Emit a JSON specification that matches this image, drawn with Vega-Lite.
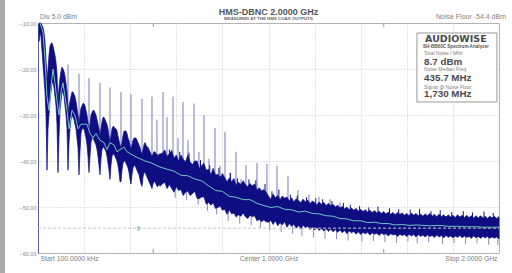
{
"$schema":"https://vega.github.io/schema/vega-lite/v6.json",
"autosize":{"type":"none"},
"width":461,"height":230,
"padding":{"left":38,"top":23,"right":13,"bottom":20},
"background":"white",
"config":{"font":"Liberation Sans","view":{"stroke":"#a8a8a8","strokeWidth":1}},
"datasets":{
"band":[
{"f":4.3,"lo":-14,"hi":-10},{"f":8.7,"lo":-12,"hi":-10},{"f":13.0,"lo":-13,"hi":-10},{"f":17.4,"lo":-16,"hi":-10.5},{"f":21.7,"lo":-19,"hi":-11},{"f":26.0,"lo":-22,"hi":-12},{"f":30.4,"lo":-25,"hi":-14},{"f":34.7,"lo":-30,"hi":-18},{"f":39.0,"lo":-42,"hi":-22},{"f":43.4,"lo":-33,"hi":-20},
{"f":47.7,"lo":-30,"hi":-17},{"f":52.1,"lo":-27,"hi":-15},{"f":56.4,"lo":-25,"hi":-14.5},{"f":60.7,"lo":-23,"hi":-14.3},{"f":65.1,"lo":-23,"hi":-15},{"f":69.4,"lo":-24,"hi":-16},{"f":73.7,"lo":-26,"hi":-17},{"f":78.1,"lo":-28,"hi":-18.5},{"f":82.4,"lo":-32,"hi":-21},{"f":86.8,"lo":-42.5,"hi":-27},
{"f":91.1,"lo":-35,"hi":-24},{"f":95.4,"lo":-29,"hi":-22},{"f":99.8,"lo":-27,"hi":-20.5},{"f":104.1,"lo":-25,"hi":-19.6},{"f":108.4,"lo":-25,"hi":-20},{"f":112.8,"lo":-26,"hi":-20.5},{"f":117.1,"lo":-28,"hi":-21.5},{"f":121.4,"lo":-30,"hi":-23},{"f":125.8,"lo":-33,"hi":-25},{"f":130.1,"lo":-42,"hi":-30},
{"f":134.5,"lo":-36,"hi":-28},{"f":138.8,"lo":-33,"hi":-27},{"f":143.1,"lo":-31,"hi":-26},{"f":147.5,"lo":-30,"hi":-25},{"f":151.8,"lo":-30.5,"hi":-25},{"f":156.1,"lo":-31,"hi":-25.5},{"f":160.5,"lo":-32,"hi":-26},{"f":164.8,"lo":-33,"hi":-27},{"f":169.1,"lo":-35,"hi":-28.5},{"f":173.5,"lo":-37,"hi":-30},
{"f":177.9,"lo":-43,"hi":-32},{"f":182.2,"lo":-38,"hi":-30},{"f":186.5,"lo":-34,"hi":-28.5},{"f":190.9,"lo":-33,"hi":-28},{"f":195.2,"lo":-33,"hi":-27.5},{"f":199.5,"lo":-33,"hi":-27.5},{"f":203.9,"lo":-34,"hi":-28},{"f":208.2,"lo":-35,"hi":-29},{"f":212.6,"lo":-36.5,"hi":-30},{"f":216.9,"lo":-39,"hi":-31.5},
{"f":221.2,"lo":-42.5,"hi":-33.5},{"f":225.6,"lo":-39,"hi":-32},{"f":229.9,"lo":-36,"hi":-30},{"f":234.3,"lo":-35,"hi":-29.5},{"f":238.6,"lo":-35,"hi":-29},{"f":242.9,"lo":-35.5,"hi":-29},{"f":247.3,"lo":-36,"hi":-29.5},{"f":251.6,"lo":-36.5,"hi":-30},{"f":255.9,"lo":-37.5,"hi":-31},{"f":260.3,"lo":-39,"hi":-32},
{"f":264.6,"lo":-41,"hi":-33},{"f":269.0,"lo":-43,"hi":-34.5},{"f":273.3,"lo":-39.5,"hi":-33},{"f":277.6,"lo":-37.5,"hi":-31.5},{"f":282.0,"lo":-37,"hi":-30.5},{"f":286.3,"lo":-37,"hi":-30.5},{"f":290.6,"lo":-37.5,"hi":-31},{"f":295.0,"lo":-38,"hi":-31.5},{"f":299.3,"lo":-39,"hi":-32},{"f":303.7,"lo":-40.5,"hi":-33},
{"f":308.0,"lo":-42,"hi":-34.5},{"f":312.3,"lo":-44,"hi":-36},{"f":316.7,"lo":-41,"hi":-34.5},{"f":321.0,"lo":-39,"hi":-33},{"f":325.4,"lo":-38.5,"hi":-32.5},{"f":329.7,"lo":-38.5,"hi":-32.5},{"f":334.0,"lo":-39,"hi":-33},{"f":338.4,"lo":-39.5,"hi":-33},{"f":342.7,"lo":-40,"hi":-33.5},{"f":347.0,"lo":-41,"hi":-34.5},
{"f":351.4,"lo":-42.5,"hi":-35.5},{"f":355.7,"lo":-44.5,"hi":-36.5},{"f":360.1,"lo":-44.5,"hi":-37},{"f":364.4,"lo":-42,"hi":-36},{"f":368.7,"lo":-40.5,"hi":-34.5},{"f":373.1,"lo":-40,"hi":-33.5},{"f":377.4,"lo":-40,"hi":-33.5},{"f":381.8,"lo":-40.5,"hi":-33.5},{"f":386.1,"lo":-41,"hi":-34},{"f":390.4,"lo":-41.5,"hi":-35},
{"f":394.8,"lo":-42.5,"hi":-35.5},{"f":399.1,"lo":-44,"hi":-36.5},{"f":403.4,"lo":-45,"hi":-37.5},{"f":407.8,"lo":-43,"hi":-36.5},{"f":412.1,"lo":-41.5,"hi":-35.5},{"f":416.5,"lo":-41,"hi":-35},{"f":420.8,"lo":-41,"hi":-35},{"f":425.1,"lo":-41.5,"hi":-35},{"f":429.5,"lo":-42,"hi":-35.5},{"f":433.8,"lo":-42.5,"hi":-36},
{"f":438.1,"lo":-43,"hi":-36.5},{"f":442.5,"lo":-44,"hi":-37},{"f":446.8,"lo":-45,"hi":-38},{"f":451.2,"lo":-45.5,"hi":-38.5},{"f":455.5,"lo":-43.5,"hi":-37.5},{"f":459.8,"lo":-42.5,"hi":-36.5},{"f":464.2,"lo":-42.5,"hi":-36},{"f":468.5,"lo":-43,"hi":-36.5},{"f":472.9,"lo":-43.5,"hi":-37},{"f":477.2,"lo":-44,"hi":-37},
{"f":481.5,"lo":-44.5,"hi":-37.5},{"f":485.9,"lo":-45,"hi":-38},{"f":490.2,"lo":-45.5,"hi":-38.5},{"f":494.5,"lo":-46,"hi":-39},{"f":498.9,"lo":-45,"hi":-38.5},{"f":503.2,"lo":-44.5,"hi":-38},{"f":507.6,"lo":-44.5,"hi":-38},{"f":511.9,"lo":-45,"hi":-38.5},{"f":516.2,"lo":-45.5,"hi":-38.5},{"f":520.6,"lo":-45.5,"hi":-39},
{"f":524.9,"lo":-45,"hi":-38.5},{"f":529.2,"lo":-45.5,"hi":-38.5},
{"f":540,"lo":-45.0,"hi":-38.3},{"f":550,"lo":-44.6,"hi":-37.6},{"f":560,"lo":-46.0,"hi":-39.0},{"f":570,"lo":-45.1,"hi":-38.4},{"f":580,"lo":-46.0,"hi":-37.7},{"f":590,"lo":-46.8,"hi":-39.4},{"f":600,"lo":-45.6,"hi":-38.7},{"f":610,"lo":-46.4,"hi":-40.1},{"f":620,"lo":-46.2,"hi":-38.7},{"f":630,"lo":-47.5,"hi":-39.6},
{"f":640,"lo":-46.8,"hi":-40.2},{"f":650,"lo":-46.5,"hi":-38.7},{"f":660,"lo":-47.5,"hi":-40.2},{"f":670,"lo":-47.1,"hi":-40.8},{"f":680,"lo":-46.6,"hi":-40.0},{"f":690,"lo":-48.1,"hi":-40.0},{"f":700,"lo":-48.2,"hi":-41.6},{"f":710,"lo":-47.8,"hi":-41.0},{"f":720,"lo":-47.8,"hi":-40.5},{"f":730,"lo":-49.4,"hi":-42.0},
{"f":740,"lo":-49.0,"hi":-41.8},{"f":750,"lo":-49.6,"hi":-43.0},{"f":760,"lo":-49.1,"hi":-41.6},{"f":770,"lo":-50.3,"hi":-43.1},{"f":780,"lo":-50.1,"hi":-42.9},{"f":790,"lo":-49.8,"hi":-43.6},{"f":800,"lo":-50.7,"hi":-42.7},{"f":810,"lo":-50.5,"hi":-43.6},{"f":820,"lo":-51.6,"hi":-44.5},{"f":830,"lo":-50.6,"hi":-43.7},
{"f":840,"lo":-51.5,"hi":-44.5},{"f":850,"lo":-51.3,"hi":-43.8},{"f":860,"lo":-52.2,"hi":-45.3},{"f":870,"lo":-51.7,"hi":-44.6},{"f":880,"lo":-52.0,"hi":-45.1},{"f":890,"lo":-51.3,"hi":-44.3},{"f":900,"lo":-52.1,"hi":-45.1},{"f":910,"lo":-52.5,"hi":-45.6},{"f":920,"lo":-51.8,"hi":-44.9},{"f":930,"lo":-52.1,"hi":-45.4},
{"f":940,"lo":-51.9,"hi":-45.0},{"f":950,"lo":-53.0,"hi":-46.4},{"f":960,"lo":-52.7,"hi":-45.8},{"f":970,"lo":-53.2,"hi":-46.5},{"f":980,"lo":-52.8,"hi":-46.2},{"f":990,"lo":-53.2,"hi":-46.8},
{"f":1000,"lo":-53.3,"hi":-47.6},{"f":1010,"lo":-52.9,"hi":-48.3},{"f":1020,"lo":-53.8,"hi":-47.2},{"f":1030,"lo":-53.0,"hi":-48.0},{"f":1040,"lo":-54.1,"hi":-47.5},{"f":1050,"lo":-53.4,"hi":-48.4},{"f":1060,"lo":-53.9,"hi":-47.6},{"f":1070,"lo":-53.2,"hi":-48.1},{"f":1080,"lo":-54.4,"hi":-47.8},{"f":1090,"lo":-53.6,"hi":-48.7},
{"f":1100,"lo":-54.2,"hi":-48.0},{"f":1110,"lo":-53.7,"hi":-48.9},{"f":1120,"lo":-54.6,"hi":-48.2},{"f":1130,"lo":-54.0,"hi":-48.6},{"f":1140,"lo":-54.8,"hi":-49.1},{"f":1150,"lo":-53.9,"hi":-48.3},{"f":1160,"lo":-54.5,"hi":-48.9},{"f":1170,"lo":-54.2,"hi":-48.5},{"f":1180,"lo":-54.9,"hi":-49.3},{"f":1190,"lo":-54.3,"hi":-48.7},
{"f":1200,"lo":-55.0,"hi":-49.0},{"f":1210,"lo":-54.4,"hi":-49.5},{"f":1220,"lo":-55.1,"hi":-48.9},{"f":1230,"lo":-54.6,"hi":-49.4},{"f":1240,"lo":-55.2,"hi":-49.0},{"f":1250,"lo":-54.7,"hi":-49.7},{"f":1260,"lo":-55.3,"hi":-49.2},{"f":1270,"lo":-54.8,"hi":-49.8},{"f":1280,"lo":-55.4,"hi":-49.4},{"f":1290,"lo":-54.9,"hi":-50.0},
{"f":1300,"lo":-55.5,"hi":-49.6},{"f":1310,"lo":-55.0,"hi":-50.2},{"f":1320,"lo":-55.6,"hi":-49.9},{"f":1330,"lo":-55.1,"hi":-50.4},{"f":1340,"lo":-55.8,"hi":-50.0},{"f":1350,"lo":-55.2,"hi":-50.6},{"f":1360,"lo":-55.6,"hi":-50.2},{"f":1370,"lo":-55.3,"hi":-50.7},{"f":1380,"lo":-55.9,"hi":-50.3},{"f":1390,"lo":-55.4,"hi":-50.9},
{"f":1400,"lo":-56.0,"hi":-50.5},{"f":1410,"lo":-55.5,"hi":-51.0},{"f":1420,"lo":-55.8,"hi":-50.6},{"f":1430,"lo":-55.5,"hi":-51.1},{"f":1440,"lo":-56.1,"hi":-50.7},{"f":1450,"lo":-55.6,"hi":-51.2},{"f":1460,"lo":-55.9,"hi":-50.8},{"f":1470,"lo":-55.7,"hi":-51.3},{"f":1480,"lo":-56.2,"hi":-50.9},{"f":1490,"lo":-55.7,"hi":-51.4},
{"f":1500,"lo":-56.0,"hi":-51.0},{"f":1510,"lo":-55.8,"hi":-51.5},{"f":1520,"lo":-56.3,"hi":-51.1},{"f":1530,"lo":-55.8,"hi":-51.6},{"f":1540,"lo":-56.1,"hi":-51.2},{"f":1550,"lo":-55.9,"hi":-51.7},{"f":1560,"lo":-56.4,"hi":-51.2},{"f":1570,"lo":-55.9,"hi":-51.6},{"f":1580,"lo":-56.2,"hi":-51.3},{"f":1590,"lo":-56.0,"hi":-51.8},
{"f":1600,"lo":-56.4,"hi":-51.4},{"f":1610,"lo":-55.9,"hi":-51.9},{"f":1620,"lo":-56.3,"hi":-51.3},{"f":1630,"lo":-56.0,"hi":-51.8},{"f":1640,"lo":-56.5,"hi":-51.4},{"f":1650,"lo":-56.0,"hi":-51.9},{"f":1660,"lo":-56.4,"hi":-51.5},{"f":1670,"lo":-56.1,"hi":-52.0},{"f":1680,"lo":-56.5,"hi":-51.5},{"f":1690,"lo":-56.1,"hi":-51.9},
{"f":1700,"lo":-56.4,"hi":-51.4},{"f":1710,"lo":-56.2,"hi":-52.0},{"f":1720,"lo":-56.6,"hi":-51.6},{"f":1730,"lo":-56.1,"hi":-52.1},{"f":1740,"lo":-56.5,"hi":-51.6},{"f":1750,"lo":-56.2,"hi":-52.1},{"f":1760,"lo":-56.7,"hi":-51.7},{"f":1770,"lo":-56.2,"hi":-52.2},{"f":1780,"lo":-56.6,"hi":-51.7},{"f":1790,"lo":-56.3,"hi":-52.2},
{"f":1800,"lo":-56.7,"hi":-51.8},{"f":1810,"lo":-56.3,"hi":-52.3},{"f":1820,"lo":-56.6,"hi":-51.7},{"f":1830,"lo":-56.2,"hi":-52.2},{"f":1840,"lo":-56.7,"hi":-51.8},{"f":1850,"lo":-56.3,"hi":-52.3},{"f":1860,"lo":-56.6,"hi":-51.8},{"f":1870,"lo":-56.4,"hi":-52.3},{"f":1880,"lo":-56.8,"hi":-51.9},{"f":1890,"lo":-56.3,"hi":-52.4},
{"f":1900,"lo":-56.7,"hi":-51.9},{"f":1910,"lo":-56.4,"hi":-52.4},{"f":1920,"lo":-56.8,"hi":-51.9},{"f":1930,"lo":-56.4,"hi":-52.4},{"f":1940,"lo":-56.7,"hi":-52.0},{"f":1950,"lo":-56.4,"hi":-52.5},{"f":1960,"lo":-56.8,"hi":-52.0},{"f":1970,"lo":-56.5,"hi":-52.4},{"f":1980,"lo":-56.8,"hi":-52.0},{"f":1990,"lo":-56.5,"hi":-52.5},
{"f":2000,"lo":-56.9,"hi":-52.1}],
"teal":[
{"f":8.7,"v":-10},{"f":21.7,"v":-12},{"f":30.4,"v":-18},{"f":39,"v":-26},{"f":47.7,"v":-29},{"f":56.4,"v":-24},{"f":65.1,"v":-20},{"f":73.7,"v":-23},{"f":82.4,"v":-27},{"f":91.1,"v":-30},{"f":99.8,"v":-25},{"f":108.4,"v":-23},{"f":117.1,"v":-26},{"f":125.8,"v":-29},{"f":134.5,"v":-33},{"f":147.5,"v":-29},{"f":160.5,"v":-30},{"f":173.5,"v":-33},{"f":186.5,"v":-32},{"f":199.5,"v":-32},{"f":212.6,"v":-32},{"f":225.6,"v":-34},{"f":238.6,"v":-35},{"f":251.6,"v":-34},{"f":269,"v":-35.5},{"f":286.3,"v":-36},{"f":299.3,"v":-37.5},{"f":312.3,"v":-36},{"f":329.7,"v":-36.5},{"f":342.7,"v":-38},{"f":355.7,"v":-37.5},{"f":373.1,"v":-37},{"f":386.1,"v":-38},{"f":403.4,"v":-38.5},{"f":420.8,"v":-39},{"f":442.5,"v":-39.5},{"f":464.2,"v":-40},{"f":485.9,"v":-40.3},{"f":507.6,"v":-40.8},{"f":529.2,"v":-41.3},
{"f":560,"v":-41.8},{"f":590,"v":-42.2},{"f":620,"v":-43.1},{"f":650,"v":-43.2},{"f":680,"v":-43.9},{"f":710,"v":-44.3},{"f":740,"v":-45.4},{"f":770,"v":-46.4},{"f":800,"v":-46.6},{"f":830,"v":-47.7},{"f":860,"v":-47.9},{"f":890,"v":-48.4},{"f":920,"v":-48.4},{"f":950,"v":-49.2},{"f":980,"v":-49.7},{"f":1010,"v":-50.1},{"f":1040,"v":-49.9},{"f":1070,"v":-50.5},{"f":1100,"v":-50.6},{"f":1130,"v":-51.1},{"f":1160,"v":-50.9},{"f":1190,"v":-51.4},{"f":1220,"v":-51.5},{"f":1250,"v":-51.9},{"f":1280,"v":-52.0},{"f":1310,"v":-52.5},{"f":1340,"v":-52.6},{"f":1370,"v":-53.0},{"f":1400,"v":-53.0},{"f":1430,"v":-53.4},{"f":1460,"v":-53.3},{"f":1490,"v":-53.6},{"f":1520,"v":-53.6},{"f":1550,"v":-53.9},{"f":1580,"v":-53.8},{"f":1610,"v":-54.0},{"f":1640,"v":-53.9},{"f":1670,"v":-54.0},{"f":1700,"v":-54.1},{"f":1740,"v":-54.0},{"f":1780,"v":-54.2},{"f":1820,"v":-54.2},{"f":1860,"v":-54.3},{"f":1900,"v":-54.3},{"f":1940,"v":-54.4},{"f":1980,"v":-54.4},{"f":2000,"v":-54.4}],
"harm":[
{"f":130.1,"v":-19,"b":-30},{"f":177.9,"v":-21,"b":-32},{"f":221.2,"v":-22,"b":-34},{"f":268.9,"v":-23,"b":-35},{"f":312.3,"v":-24,"b":-36},{"f":360,"v":-25,"b":-37},{"f":403.4,"v":-25.5,"b":-38},{"f":451.2,"v":-26.5,"b":-39},{"f":494.5,"v":-26,"b":-40},{"f":542.3,"v":-25,"b":-41.5},{"f":585.7,"v":-26,"b":-42.4},{"f":629,"v":-27.2,"b":-43},{"f":676.8,"v":-27.5,"b":-44},{"f":720.1,"v":-30,"b":-44.8},{"f":767.8,"v":-32.8,"b":-46.2},{"f":811.2,"v":-33.7,"b":-47.2},{"f":858.9,"v":-38,"b":-48},{"f":902.3,"v":-40.9,"b":-48.5},{"f":950,"v":-40.4,"b":-49},{"f":993.4,"v":-40.6,"b":-49.9},{"f":1036.8,"v":-41,"b":-50.1},{"f":1084.5,"v":-43.3,"b":-50.5},{"f":1127.9,"v":-46.3,"b":-51},{"f":1175.6,"v":-47.3,"b":-51.1},{"f":1219,"v":-47.8,"b":-51.6},{"f":1266.7,"v":-48.3,"b":-52},{"f":1310.1,"v":-49,"b":-52.4},
{"f":516.2,"v":-31,"b":-40.5},{"f":559.6,"v":-30.5,"b":-41.8},{"f":607.3,"v":-35,"b":-42.6},{"f":650.7,"v":-35.5,"b":-43.3},{"f":698.4,"v":-38,"b":-44.2},{"f":741.8,"v":-39.5,"b":-45.5},{"f":789.5,"v":-41,"b":-46.6},{"f":832.9,"v":-42.5,"b":-47.6},{"f":880.6,"v":-44,"b":-48.2}],
"dn":[
{"f":595,"v":-48.0,"b":-42.4},{"f":645,"v":-48.5,"b":-43.2},{"f":695,"v":-49.5,"b":-44.1},{"f":735,"v":-50.8,"b":-45.3},{"f":775,"v":-51.6,"b":-46.4},{"f":825,"v":-53.0,"b":-47.5},{"f":875,"v":-53.6,"b":-48.2},{"f":925,"v":-54.0,"b":-48.6},{"f":965,"v":-54.6,"b":-49.4},{"f":1005,"v":-55.0,"b":-50},{"f":1055,"v":-55.4,"b":-50.2},{"f":1105,"v":-55.8,"b":-50.7},{"f":1145,"v":-56.3,"b":-51},{"f":1195,"v":-56.6,"b":-51.3},{"f":1245,"v":-56.9,"b":-51.7},{"f":1295,"v":-57.0,"b":-52.2},{"f":1345,"v":-57.3,"b":-52.7},{"f":1405,"v":-57.5,"b":-53.1},{"f":1455,"v":-57.4,"b":-53.4},{"f":1505,"v":-57.6,"b":-53.6},{"f":1555,"v":-57.8,"b":-53.8},{"f":1605,"v":-57.5,"b":-53.9},{"f":1645,"v":-57.9,"b":-53.9},{"f":1695,"v":-57.7,"b":-54},{"f":1755,"v":-58.0,"b":-54.1},{"f":1805,"v":-57.8,"b":-54.2},{"f":1855,"v":-58.1,"b":-54.2},{"f":1905,"v":-57.9,"b":-54.3},{"f":1955,"v":-58.2,"b":-54.4},{"f":1995,"v":-58.3,"b":-54.4}],
"up":[
{"f":570,"v":-37.5,"b":-42},{"f":615,"v":-38.0,"b":-42.8},{"f":655,"v":-38.2,"b":-43.3},{"f":705,"v":-39.8,"b":-44.4},{"f":745,"v":-40.9,"b":-45.6},{"f":785,"v":-41.5,"b":-46.5},{"f":835,"v":-42.6,"b":-47.7},{"f":865,"v":-43.8,"b":-48.1},{"f":915,"v":-44.0,"b":-48.5},{"f":945,"v":-44.2,"b":-48.8},{"f":985,"v":-45.0,"b":-49.8},{"f":1015,"v":-46.6,"b":-50},{"f":1045,"v":-46.2,"b":-50.1},{"f":1095,"v":-47.3,"b":-50.6},{"f":1125,"v":-47.5,"b":-50.9},{"f":1165,"v":-47.9,"b":-51.1},{"f":1205,"v":-48.1,"b":-51.4},{"f":1235,"v":-48.3,"b":-51.6},{"f":1275,"v":-48.7,"b":-52},{"f":1325,"v":-49.1,"b":-52.5},{"f":1355,"v":-49.5,"b":-52.8},{"f":1395,"v":-49.8,"b":-53.1},{"f":1435,"v":-50.1,"b":-53.3},{"f":1475,"v":-49.9,"b":-53.5},{"f":1525,"v":-50.3,"b":-53.7},{"f":1565,"v":-50.5,"b":-53.8},{"f":1615,"v":-50.6,"b":-53.9},{"f":1655,"v":-50.4,"b":-53.9},{"f":1705,"v":-50.9,"b":-54},{"f":1745,"v":-50.7,"b":-54.1},{"f":1795,"v":-51.1,"b":-54.2},{"f":1845,"v":-50.9,"b":-54.2},{"f":1885,"v":-51.2,"b":-54.3},{"f":1935,"v":-51.0,"b":-54.3},{"f":1975,"v":-51.3,"b":-54.4}],
"qt":[{"f":500},{"f":1500}]
},
"layer":[
{"data":{"name":"harm"},"mark":{"type":"rule","color":"#7a7ab8","strokeWidth":1},
 "encoding":{
  "x":{"field":"f","type":"quantitative","title":null,"scale":{"domain":[0,2000],"nice":false,"zero":false},
   "axis":{"title":null,"values":[0,100,200,300,400,500,600,700,800,900,1000,1100,1200,1300,1400,1500,1600,1700,1800,1900,2000],
    "labelExpr":"datum.value==0?'Start 100.0000 kHz':datum.value==1000?'Center 1.0000 GHz':datum.value==2000?'Stop 2.0000 GHz':''",
    "labelFlush":true,"labelFlushOffset":-2,"ticks":false,"domain":false,"grid":true,"gridColor":"#c6c6c6","gridDash":[1,2],
    "labelFontSize":6.8,"labelColor":"#7a7a7a","labelPadding":2,"labelOverlap":false,"labelBound":false}},
  "y":{"field":"v","type":"quantitative","title":null,"scale":{"domain":[-60,-10],"nice":false,"zero":false},
   "axis":{"title":null,"values":[-60,-55,-50,-45,-40,-35,-30,-25,-20,-15,-10],
    "labelExpr":"datum.value % 10 == 0 ? format(datum.value,'.2f') : ''",
    "ticks":false,"domain":true,"domainColor":"#5c5ca8","domainWidth":1,"grid":true,"gridColor":"#c6c6c6","gridDash":[1,2],
    "labelFontSize":5.5,"labelColor":"#8a8a8a","labelPadding":2,"labelOverlap":false}},
  "y2":{"field":"b"}}},
{"data":{"name":"dn"},"mark":{"type":"rule","color":"#8a8ac0","strokeWidth":1},
 "encoding":{"x":{"field":"f","type":"quantitative","title":null,"scale":{"domain":[0,2000],"nice":false,"zero":false}},
  "y":{"field":"v","type":"quantitative","title":null,"scale":{"domain":[-60,-10],"nice":false,"zero":false}},"y2":{"field":"b"}}},
{"data":{"name":"band"},"mark":{"type":"area","color":"#0e0e82","stroke":"#0e0e82","strokeWidth":0.7},
 "encoding":{"x":{"field":"f","type":"quantitative","title":null,"scale":{"domain":[0,2000],"nice":false,"zero":false}},
  "y":{"field":"hi","type":"quantitative","title":null,"scale":{"domain":[-60,-10],"nice":false,"zero":false}},"y2":{"field":"lo"}}},
{"data":{"name":"up"},"mark":{"type":"rule","color":"#0e0e82","strokeWidth":1},
 "encoding":{"x":{"field":"f","type":"quantitative","title":null,"scale":{"domain":[0,2000],"nice":false,"zero":false}},
  "y":{"field":"v","type":"quantitative","title":null,"scale":{"domain":[-60,-10],"nice":false,"zero":false}},"y2":{"field":"b"}}},
{"data":{"values":[{}]},"mark":{"type":"rule","color":"#c4c4c4","strokeDash":[3,2],"strokeWidth":1},
 "encoding":{"x":{"datum":0,"type":"quantitative","title":null,"scale":{"domain":[0,2000],"nice":false,"zero":false}},"x2":{"datum":2000},
  "y":{"datum":-54.6,"type":"quantitative","title":null,"scale":{"domain":[-60,-10],"nice":false,"zero":false}}}},
{"data":{"name":"teal"},"mark":{"type":"line","color":"#72c6c0","strokeWidth":1},
 "encoding":{"x":{"field":"f","type":"quantitative","title":null,"scale":{"domain":[0,2000],"nice":false,"zero":false}},
  "y":{"field":"v","type":"quantitative","title":null,"scale":{"domain":[-60,-10],"nice":false,"zero":false}}}},
{"data":{"values":[{}]},"mark":{"type":"text","text":"§","color":"#4aa8a4","fontSize":6,"baseline":"middle","align":"center"},
 "encoding":{"x":{"datum":435.7,"type":"quantitative","title":null,"scale":{"domain":[0,2000],"nice":false,"zero":false}},
  "y":{"datum":-54.6,"type":"quantitative","title":null,"scale":{"domain":[-60,-10],"nice":false,"zero":false}}}},
{"data":{"name":"qt"},"mark":{"type":"rule","color":"#9a9a9a","strokeWidth":1},
 "encoding":{"x":{"field":"f","type":"quantitative","title":null,"scale":{"domain":[0,2000],"nice":false,"zero":false}},
  "y":{"datum":-10,"type":"quantitative","title":null,"scale":{"domain":[-60,-10],"nice":false,"zero":false}},"y2":{"datum":-10.9}}},
{"data":{"name":"qt"},"mark":{"type":"rule","color":"#9a9a9a","strokeWidth":1},
 "encoding":{"x":{"field":"f","type":"quantitative","title":null,"scale":{"domain":[0,2000],"nice":false,"zero":false}},
  "y":{"datum":-60,"type":"quantitative","title":null,"scale":{"domain":[-60,-10],"nice":false,"zero":false}},"y2":{"datum":-59.1}}},
{"data":{"values":[{}]},"mark":{"type":"rect","color":"#a9a9a9"},
 "encoding":{"x":{"datum":-165,"type":"quantitative","title":null,"scale":{"domain":[0,2000],"nice":false,"zero":false}},"x2":{"datum":-143},
  "y":{"datum":-5,"type":"quantitative","title":null,"scale":{"domain":[-60,-10],"nice":false,"zero":false}},"y2":{"datum":-64.4}}},
{"data":{"values":[{}]},"mark":{"type":"text","text":"HMS-DBNC 2.0000 GHz","fontSize":9,"fontWeight":"bold","color":"#555555","align":"center","baseline":"alphabetic","dy":-8},
 "encoding":{"x":{"datum":1000,"type":"quantitative","title":null,"scale":{"domain":[0,2000],"nice":false,"zero":false}},
  "y":{"datum":-10,"type":"quantitative","title":null,"scale":{"domain":[-60,-10],"nice":false,"zero":false}}}},
{"data":{"values":[{}]},"mark":{"type":"text","text":"MEASURED AT THE HMS COAX OUTPUTS","fontSize":4.4,"fontWeight":"bold","color":"#666666","align":"center","baseline":"alphabetic","dy":-3.3},
 "encoding":{"x":{"datum":1000,"type":"quantitative","title":null,"scale":{"domain":[0,2000],"nice":false,"zero":false}},
  "y":{"datum":-10,"type":"quantitative","title":null,"scale":{"domain":[-60,-10],"nice":false,"zero":false}}}},
{"data":{"values":[{}]},"mark":{"type":"text","text":"Div 5.0 dBm","fontSize":6.8,"color":"#808080","align":"left","baseline":"alphabetic","dx":2,"dy":-3.7},
 "encoding":{"x":{"datum":0,"type":"quantitative","title":null,"scale":{"domain":[0,2000],"nice":false,"zero":false}},
  "y":{"datum":-10,"type":"quantitative","title":null,"scale":{"domain":[-60,-10],"nice":false,"zero":false}}}},
{"data":{"values":[{}]},"mark":{"type":"text","text":"Noise Floor -54.4 dBm","fontSize":7,"color":"#808080","align":"right","baseline":"alphabetic","dx":7,"dy":-3.7},
 "encoding":{"x":{"datum":2000,"type":"quantitative","title":null,"scale":{"domain":[0,2000],"nice":false,"zero":false}},
  "y":{"datum":-10,"type":"quantitative","title":null,"scale":{"domain":[-60,-10],"nice":false,"zero":false}}}},
{"data":{"values":[{}]},"mark":{"type":"rect","fill":"white","stroke":"#9a9a9a","strokeWidth":1},
 "encoding":{"x":{"datum":1644,"type":"quantitative","title":null,"scale":{"domain":[0,2000],"nice":false,"zero":false}},"x2":{"datum":1991},
  "y":{"datum":-12.17,"type":"quantitative","title":null,"scale":{"domain":[-60,-10],"nice":false,"zero":false}},"y2":{"datum":-27.17}}},
{"data":{"values":[{}]},"mark":{"type":"text","text":"AUDIOWISE","font":"DejaVu Sans","fontSize":9.5,"fontWeight":"bold","color":"#4a4a4a","align":"center","baseline":"alphabetic"},
 "encoding":{"x":{"datum":1813,"type":"quantitative","title":null,"scale":{"domain":[0,2000],"nice":false,"zero":false}},
  "y":{"datum":-14.05,"type":"quantitative","title":null,"scale":{"domain":[-60,-10],"nice":false,"zero":false}}}},
{"data":{"values":[{}]},"mark":{"type":"text","text":"SH-BB60C Spectrum Analyzer","fontSize":4.6,"fontWeight":"bold","color":"#555555","align":"center","baseline":"alphabetic"},
 "encoding":{"x":{"datum":1813,"type":"quantitative","title":null,"scale":{"domain":[0,2000],"nice":false,"zero":false}},
  "y":{"datum":-15.45,"type":"quantitative","title":null,"scale":{"domain":[-60,-10],"nice":false,"zero":false}}}},
{"data":{"values":[{}]},"mark":{"type":"text","text":"Total Noise / Mhz","fontSize":5,"color":"#808080","align":"left","baseline":"alphabetic"},
 "encoding":{"x":{"datum":1675,"type":"quantitative","title":null,"scale":{"domain":[0,2000],"nice":false,"zero":false}},
  "y":{"datum":-16.95,"type":"quantitative","title":null,"scale":{"domain":[-60,-10],"nice":false,"zero":false}}}},
{"data":{"values":[{}]},"mark":{"type":"text","text":"8.7 dBm","fontSize":9.8,"fontWeight":"bold","color":"#4a4a4a","align":"left","baseline":"alphabetic"},
 "encoding":{"x":{"datum":1675,"type":"quantitative","title":null,"scale":{"domain":[0,2000],"nice":false,"zero":false}},
  "y":{"datum":-19.13,"type":"quantitative","title":null,"scale":{"domain":[-60,-10],"nice":false,"zero":false}}}},
{"data":{"values":[{}]},"mark":{"type":"text","text":"Noise Median Freq","fontSize":5,"color":"#808080","align":"left","baseline":"alphabetic"},
 "encoding":{"x":{"datum":1675,"type":"quantitative","title":null,"scale":{"domain":[0,2000],"nice":false,"zero":false}},
  "y":{"datum":-20.46,"type":"quantitative","title":null,"scale":{"domain":[-60,-10],"nice":false,"zero":false}}}},
{"data":{"values":[{}]},"mark":{"type":"text","text":"435.7 MHz","fontSize":9.8,"fontWeight":"bold","color":"#4a4a4a","align":"left","baseline":"alphabetic"},
 "encoding":{"x":{"datum":1675,"type":"quantitative","title":null,"scale":{"domain":[0,2000],"nice":false,"zero":false}},
  "y":{"datum":-22.6,"type":"quantitative","title":null,"scale":{"domain":[-60,-10],"nice":false,"zero":false}}}},
{"data":{"values":[{}]},"mark":{"type":"text","text":"Signal @ Noise Floor","fontSize":5,"color":"#808080","align":"left","baseline":"alphabetic"},
 "encoding":{"x":{"datum":1675,"type":"quantitative","title":null,"scale":{"domain":[0,2000],"nice":false,"zero":false}},
  "y":{"datum":-24.24,"type":"quantitative","title":null,"scale":{"domain":[-60,-10],"nice":false,"zero":false}}}},
{"data":{"values":[{}]},"mark":{"type":"text","text":"1,730 MHz","fontSize":9.8,"fontWeight":"bold","color":"#4a4a4a","align":"left","baseline":"alphabetic"},
 "encoding":{"x":{"datum":1675,"type":"quantitative","title":null,"scale":{"domain":[0,2000],"nice":false,"zero":false}},
  "y":{"datum":-26.15,"type":"quantitative","title":null,"scale":{"domain":[-60,-10],"nice":false,"zero":false}}}}
]
}
